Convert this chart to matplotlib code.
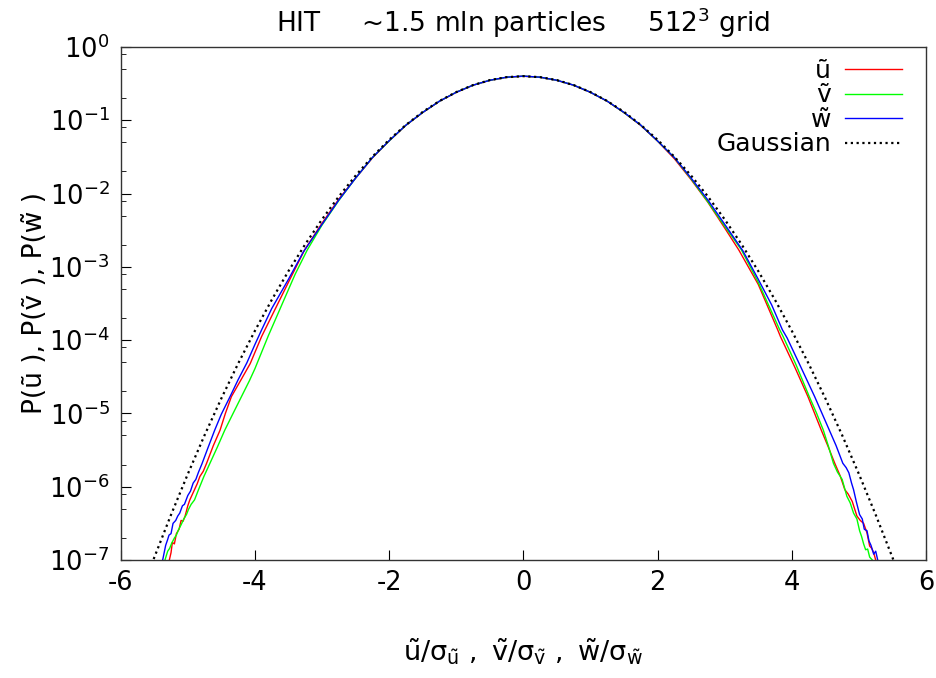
import numpy as np
import matplotlib
matplotlib.use('Agg')
import matplotlib.pyplot as plt
from matplotlib.ticker import LogLocator

# Gaussian reference, log10 P at x
gauss_x = [-5.75, -5.5, -5.25, -5.0, -4.75, -4.5, -4.25, -4.0, -3.75, -3.5, -3.25, -3.0,
           -2.75, -2.5, -2.25, -2.0, -1.75, -1.5, -1.25, -1.0, -0.75, -0.5, -0.25, 0.0,
           0.25, 0.5, 0.75, 1.0, 1.25, 1.5, 1.75, 2.0, 2.25, 2.5, 2.75, 3.0,
           3.25, 3.5, 3.75, 4.0, 4.25, 4.5, 4.75, 5.0, 5.25, 5.5, 5.75]
gauss_log = [-7.577, -6.966, -6.383, -5.827, -5.297, -4.795, -4.320, -3.873, -3.452, -3.058, -2.692, -2.353,
             -2.041, -1.756, -1.498, -1.267, -1.064, -0.887, -0.738, -0.616, -0.521, -0.453, -0.413, -0.399,
             -0.413, -0.453, -0.521, -0.616, -0.738, -0.887, -1.064, -1.267, -1.498, -1.756, -2.041, -2.353,
             -2.692, -3.058, -3.452, -3.873, -4.320, -4.795, -5.297, -5.827, -6.383, -6.966, -7.577]

# u component
u_x = [-5.30, -5.27, -5.25, -5.23, -5.20, -5.17, -5.13, -5.10, -5.07, -5.04, -5.00, -4.97, -4.93,
       -4.90, -4.86, -4.82, -4.77, -4.72, -4.62, -4.52, -4.44, -4.35, -4.20, -4.07, -3.90, -3.70,
       -3.50, -3.26, -3.00, -2.75, -2.50, -2.25, -2.00, -1.75, -1.50, -1.25, -1.00, -0.75, -0.50,
       -0.25, 0.0, 0.25, 0.5, 0.75, 1.0, 1.25, 1.5, 1.75, 2.0, 2.25, 2.5, 2.75, 3.0,
       3.21, 3.50, 3.79, 3.83, 4.05, 4.24, 4.34, 4.44, 4.54, 4.64, 4.72, 4.79, 4.84, 4.90, 4.97,
       5.02, 5.07, 5.12, 5.14, 5.16, 5.19, 5.22, 5.25, 5.27]
u_log = [-7.10, -6.98, -6.90, -6.76, -6.78, -6.64, -6.58, -6.46, -6.47, -6.40, -6.26, -6.18, -6.10,
         -6.04, -5.96, -5.86, -5.79, -5.68, -5.44, -5.23, -5.00, -4.77, -4.53, -4.32, -3.95, -3.58,
         -3.21, -2.77, -2.405, -2.077, -1.79, -1.515, -1.283, -1.070, -0.895, -0.741, -0.619, -0.523,
         -0.456, -0.414, -0.400, -0.414, -0.456, -0.523, -0.620, -0.741, -0.897, -1.072,
         -1.285, -1.525, -1.811, -2.12, -2.47, -2.77, -3.24, -3.86, -3.95, -4.38, -4.77, -5.00, -5.23,
         -5.45, -5.68, -5.85, -6.04, -6.10, -6.20, -6.40, -6.46, -6.50, -6.63, -6.72, -6.81, -6.84,
         -6.90, -7.00, -7.10]

# v component
v_x = [-5.37, -5.34, -5.30, -5.27, -5.24, -5.20, -5.17, -5.14, -5.10, -5.06, -5.02, -4.99, -4.95,
       -4.90, -4.84, -4.76, -4.67, -4.56, -4.45, -4.32, -4.20, -4.08, -4.00, -3.80, -3.60, -3.40,
       -3.22, -3.00, -2.75, -2.50, -2.25, -2.00, -1.75, -1.50, -1.25, -1.00, -0.75, -0.50, -0.25,
       0.0, 0.25, 0.5, 0.75, 1.0, 1.25, 1.5, 1.75, 2.0, 2.25, 2.5, 2.75, 3.0, 3.25,
       3.50, 3.82, 3.87, 4.06, 4.26, 4.37, 4.47, 4.55, 4.62, 4.68, 4.75, 4.82, 4.87, 4.92, 4.97,
       5.01, 5.04, 5.07, 5.10, 5.13, 5.16, 5.20, 5.23]
v_log = [-7.10, -7.00, -6.88, -6.84, -6.77, -6.70, -6.66, -6.59, -6.52, -6.44, -6.38, -6.31, -6.24,
         -6.18, -6.04, -5.86, -5.68, -5.46, -5.23, -4.99, -4.77, -4.55, -4.39, -3.94, -3.52, -3.10,
         -2.77, -2.43, -2.095, -1.79, -1.51, -1.282, -1.068, -0.894, -0.740, -0.618, -0.522, -0.455,
         -0.413, -0.399, -0.413, -0.455, -0.522, -0.619, -0.740, -0.896, -1.068, -1.284,
         -1.51, -1.80, -2.113, -2.445, -2.77, -3.21, -3.86, -3.95, -4.33, -4.77, -5.00, -5.23, -5.46,
         -5.68, -5.80, -5.90, -6.13, -6.22, -6.36, -6.44, -6.60, -6.68, -6.78, -6.86, -6.85, -6.96,
         -7.00, -7.10]

# w component
w_x = [-5.40, -5.37, -5.33, -5.30, -5.28, -5.25, -5.22, -5.18, -5.15, -5.12, -5.08, -5.05, -5.00,
       -4.96, -4.92, -4.88, -4.84, -4.79, -4.70, -4.60, -4.50, -4.37, -4.25, -4.12, -4.00, -3.90,
       -3.75, -3.50, -3.28, -3.00, -2.75, -2.50, -2.25, -2.00, -1.75, -1.50, -1.25, -1.00, -0.75,
       -0.50, -0.25, 0.0, 0.25, 0.5, 0.75, 1.0, 1.25, 1.5, 1.75, 2.0, 2.25, 2.5, 2.75,
       3.0, 3.27, 3.50, 3.70, 3.86, 3.93, 4.10, 4.34, 4.45, 4.56, 4.66, 4.76, 4.81, 4.85, 4.89,
       4.92, 4.96, 5.01, 5.05, 5.08, 5.12, 5.15, 5.18, 5.22, 5.25, 5.28, 5.30]
w_log = [-7.10, -6.98, -6.80, -6.72, -6.66, -6.64, -6.50, -6.46, -6.40, -6.36, -6.26, -6.24, -6.12,
         -6.06, -5.95, -5.90, -5.80, -5.69, -5.47, -5.23, -5.01, -4.77, -4.54, -4.31, -4.06, -3.86,
         -3.57, -3.17, -2.80, -2.42, -2.089, -1.79, -1.51, -1.28, -1.067, -0.894, -0.740, -0.619,
         -0.522, -0.455, -0.413, -0.398, -0.413, -0.455, -0.522, -0.619, -0.740, -0.894, -1.067,
         -1.283, -1.51, -1.79, -2.089, -2.42, -2.78, -3.17, -3.52, -3.86, -3.97, -4.30, -4.77, -5.00,
         -5.23, -5.44, -5.68, -5.74, -5.81, -5.95, -6.04, -6.20, -6.38, -6.44, -6.58, -6.60, -6.74,
         -6.80, -6.92, -6.88, -7.00, -7.10]

plt.rcParams['font.family'] = ['DejaVu Sans']
plt.rcParams['mathtext.fontset'] = 'dejavusans'
plt.rcParams['axes.unicode_minus'] = False
fs = 18.5

fig = plt.figure(figsize=(9.37, 6.78), dpi=100)
ax = fig.add_axes([0.1288, 0.174, 0.8595, 0.7568])

ax.plot(u_x, 10 ** np.array(u_log), color='#ff0000', lw=1.0, label='\u0169')
ax.plot(v_x, 10 ** np.array(v_log), color='#00ff00', lw=1.0, label='\u1e7d')
ax.plot(w_x, 10 ** np.array(w_log), color='#0000ff', lw=1.0, label='w\u0303')
ax.plot(gauss_x, 10 ** np.array(gauss_log), color='black', lw=1.6,
        linestyle=(0, (1, 1.6)), label='Gaussian')

ax.set_yscale('log')
ax.set_xlim(-6, 6)
ax.set_ylim(1e-7, 1)
ax.set_xticks([-6, -4, -2, 0, 2, 4, 6])
ax.yaxis.set_major_locator(LogLocator(base=10, numticks=20))
ax.yaxis.set_minor_locator(LogLocator(base=10, subs=(2, 5, 8), numticks=20))
ax.yaxis.set_minor_formatter(plt.NullFormatter())

ax.tick_params(which='both', direction='in', top=False, right=False, labelsize=fs, color='black')
ax.tick_params(axis='x', which='major', length=7, pad=7)
ax.tick_params(axis='y', which='major', length=7, pad=8)
ax.tick_params(axis='y', which='minor', length=3.6)
for s in ax.spines.values():
    s.set_linewidth(1.0)
    s.set_color('#333333')

ax.set_title('HIT     ~1.5 mln particles     512$^3$ grid', fontsize=19, pad=11)
ax.set_ylabel('P(\u0169 ), P(\u1e7d ), P(w\u0303 )', fontsize=19, labelpad=1)
ax.set_xlabel(r'$\mathregular{\tilde{u}/\sigma_{\tilde{u}}\ ,\ \tilde{v}/\sigma_{\tilde{v}}\ ,\ \tilde{w}/\sigma_{\tilde{w}}}$',
              fontsize=19.5, labelpad=29)

ax.legend(loc='upper right', bbox_to_anchor=(0.983, 0.996), frameon=False, markerfirst=False,
          fontsize=18, handlelength=2.3, handletextpad=0.55, labelspacing=0.02, borderaxespad=0)

fig.savefig('out.png', dpi=100)
